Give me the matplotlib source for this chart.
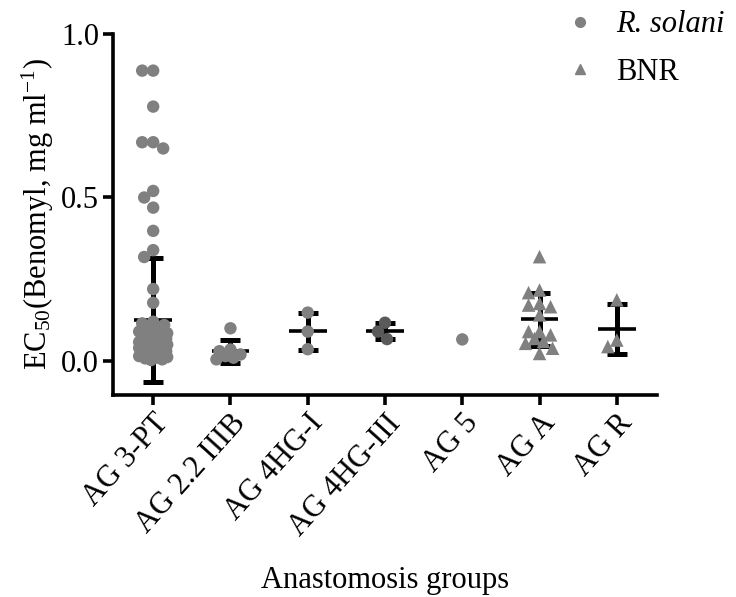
import numpy as np
import matplotlib
matplotlib.use("Agg")
import matplotlib.pyplot as plt
from matplotlib.lines import Line2D

plt.rcParams['font.family'] = ['Liberation Serif', 'DejaVu Serif']
plt.rcParams['mathtext.fontset'] = 'custom'
plt.rcParams['mathtext.rm'] = 'Liberation Serif'
plt.rcParams['mathtext.it'] = 'Liberation Serif:italic'

categories = ["AG 3-PT", "AG 2.2 IIIB", "AG 4HG-I", "AG 4HG-III", "AG 5", "AG A", "AG R"]
source = ["R. solani", "R. solani", "R. solani", "R. solani", "R. solani", "BNR", "BNR"]

ag3pt = [0.888, 0.888, 0.778, 0.669, 0.669, 0.650, 0.52, 0.50, 0.469, 0.398, 0.339,
         0.318, 0.22, 0.178, 0.12, 0.115, 0.11, 0.10, 0.095, 0.09, 0.085, 0.08, 0.075,
         0.07, 0.068, 0.065, 0.06, 0.058, 0.055, 0.05, 0.048, 0.045, 0.04, 0.038, 0.035,
         0.03, 0.028, 0.025, 0.02, 0.018, 0.015, 0.012, 0.01, 0.008, 0.005, 0.003]
ag22 = [0.10, 0.035, 0.03, 0.02, 0.015, 0.01, 0.005]
ag4hg1 = [0.148, 0.09, 0.036]
ag4hg3 = [0.117, 0.09, 0.067]
ag5 = [0.066]
aga = [0.319, 0.217, 0.209, 0.176, 0.171, 0.166, 0.141, 0.09, 0.09, 0.08, 0.069,
       0.06, 0.054, 0.039, 0.023]
agr = [0.187, 0.064, 0.044]
values = [ag3pt, ag22, ag4hg1, ag4hg3, ag5, aga, agr]

means = [0.125, 0.03, 0.091, 0.092, None, 0.128, 0.098]
sds = [0.19, 0.035, 0.056, 0.025, None, 0.081, 0.077]

point_colors = ["#808080", "#808080", "#808080", "#5a5a5a", "#808080", "#808080", "#808080"]

W, H, DPI = 736, 597, 100
fig = plt.figure(figsize=(W / DPI, H / DPI), dpi=DPI)
ax_l, ax_r, ax_t, ax_b = 113, 657, 34, 395
ax = fig.add_axes([ax_l / W, 1 - ax_b / H, (ax_r - ax_l) / W, (ax_b - ax_t) / H])
ax.set_xlim(-0.52, 6.52)
ax.set_ylim(-0.104, 1.0)

px_per_x = (ax_r - ax_l) / (6.52 + 0.52)
px_per_y = (ax_b - ax_t) / (1.0 + 0.104)


def swarm(vals, dmin=11.0, maxoff=14.0, step=1.0):
    order = np.argsort(vals)[::-1]
    placed = []
    offs = np.zeros(len(vals))
    cands = [0.0]
    k = 1
    while k * step <= maxoff:
        cands += [-k * step, k * step]
        k += 1
    for i in order:
        y = vals[i] * px_per_y
        best, bestd = 0.0, -1
        chosen = None
        for c in cands:
            d = min([np.hypot(c - px, y - py) for px, py in placed] or [1e9])
            if d >= dmin:
                chosen = c
                break
            if d > bestd:
                bestd, best = d, c
        if chosen is None:
            chosen = best
        placed.append((chosen, y))
        offs[i] = chosen
    return offs / px_per_x


lw_bar = 3.6
for i, (vals, m, s) in enumerate(zip(values, means, sds)):
    if m is not None:
        ax.errorbar(i, m, yerr=s, fmt='none', ecolor='black', elinewidth=lw_bar,
                    capsize=7.2, capthick=lw_bar, zorder=2)
        ax.hlines(m, i - 0.245, i + 0.245, colors='black', linewidth=2.6, zorder=2)
    offs = swarm(np.array(vals))
    marker = 'o' if source[i] == "R. solani" else '^'
    size = 80 if marker == 'o' else 95
    ax.scatter(i + offs, vals, s=size, marker=marker, color=point_colors[i],
               edgecolors='none', zorder=3)

ax.spines['top'].set_visible(False)
ax.spines['right'].set_visible(False)
for sp in ['left', 'bottom']:
    ax.spines[sp].set_linewidth(2.6)
ax.set_yticks([0.0, 0.5, 1.0])
ax.set_yticklabels(["0.0", "0.5", "1.0"])
ax.set_xticks(range(len(categories)))
ax.set_xticklabels(categories, rotation=48, ha='right', rotation_mode='anchor')
ax.tick_params(axis='both', width=2.6, length=7, labelsize=22, pad=3)

ax.set_ylabel(r"EC$_{50}$(Benomyl, mg ml$^{-1}$)", fontsize=22, labelpad=4)
ax.set_xlabel("Anastomosis groups", fontsize=22, labelpad=18)

handles = [Line2D([], [], marker='o', color='#808080', linestyle='none', markersize=7),
           Line2D([], [], marker='^', color='#808080', linestyle='none', markersize=7)]
labels = ["R. solani", "BNR"]
leg = fig.legend(handles, labels, loc='upper left', bbox_to_anchor=(534 / W, 1 + 17 / H),
                 frameon=False, fontsize=22, handletextpad=0.6, labelspacing=0.6,
                 handlelength=1.2)
leg.get_texts()[0].set_style('italic')

fig.savefig("out.png", dpi=DPI)
